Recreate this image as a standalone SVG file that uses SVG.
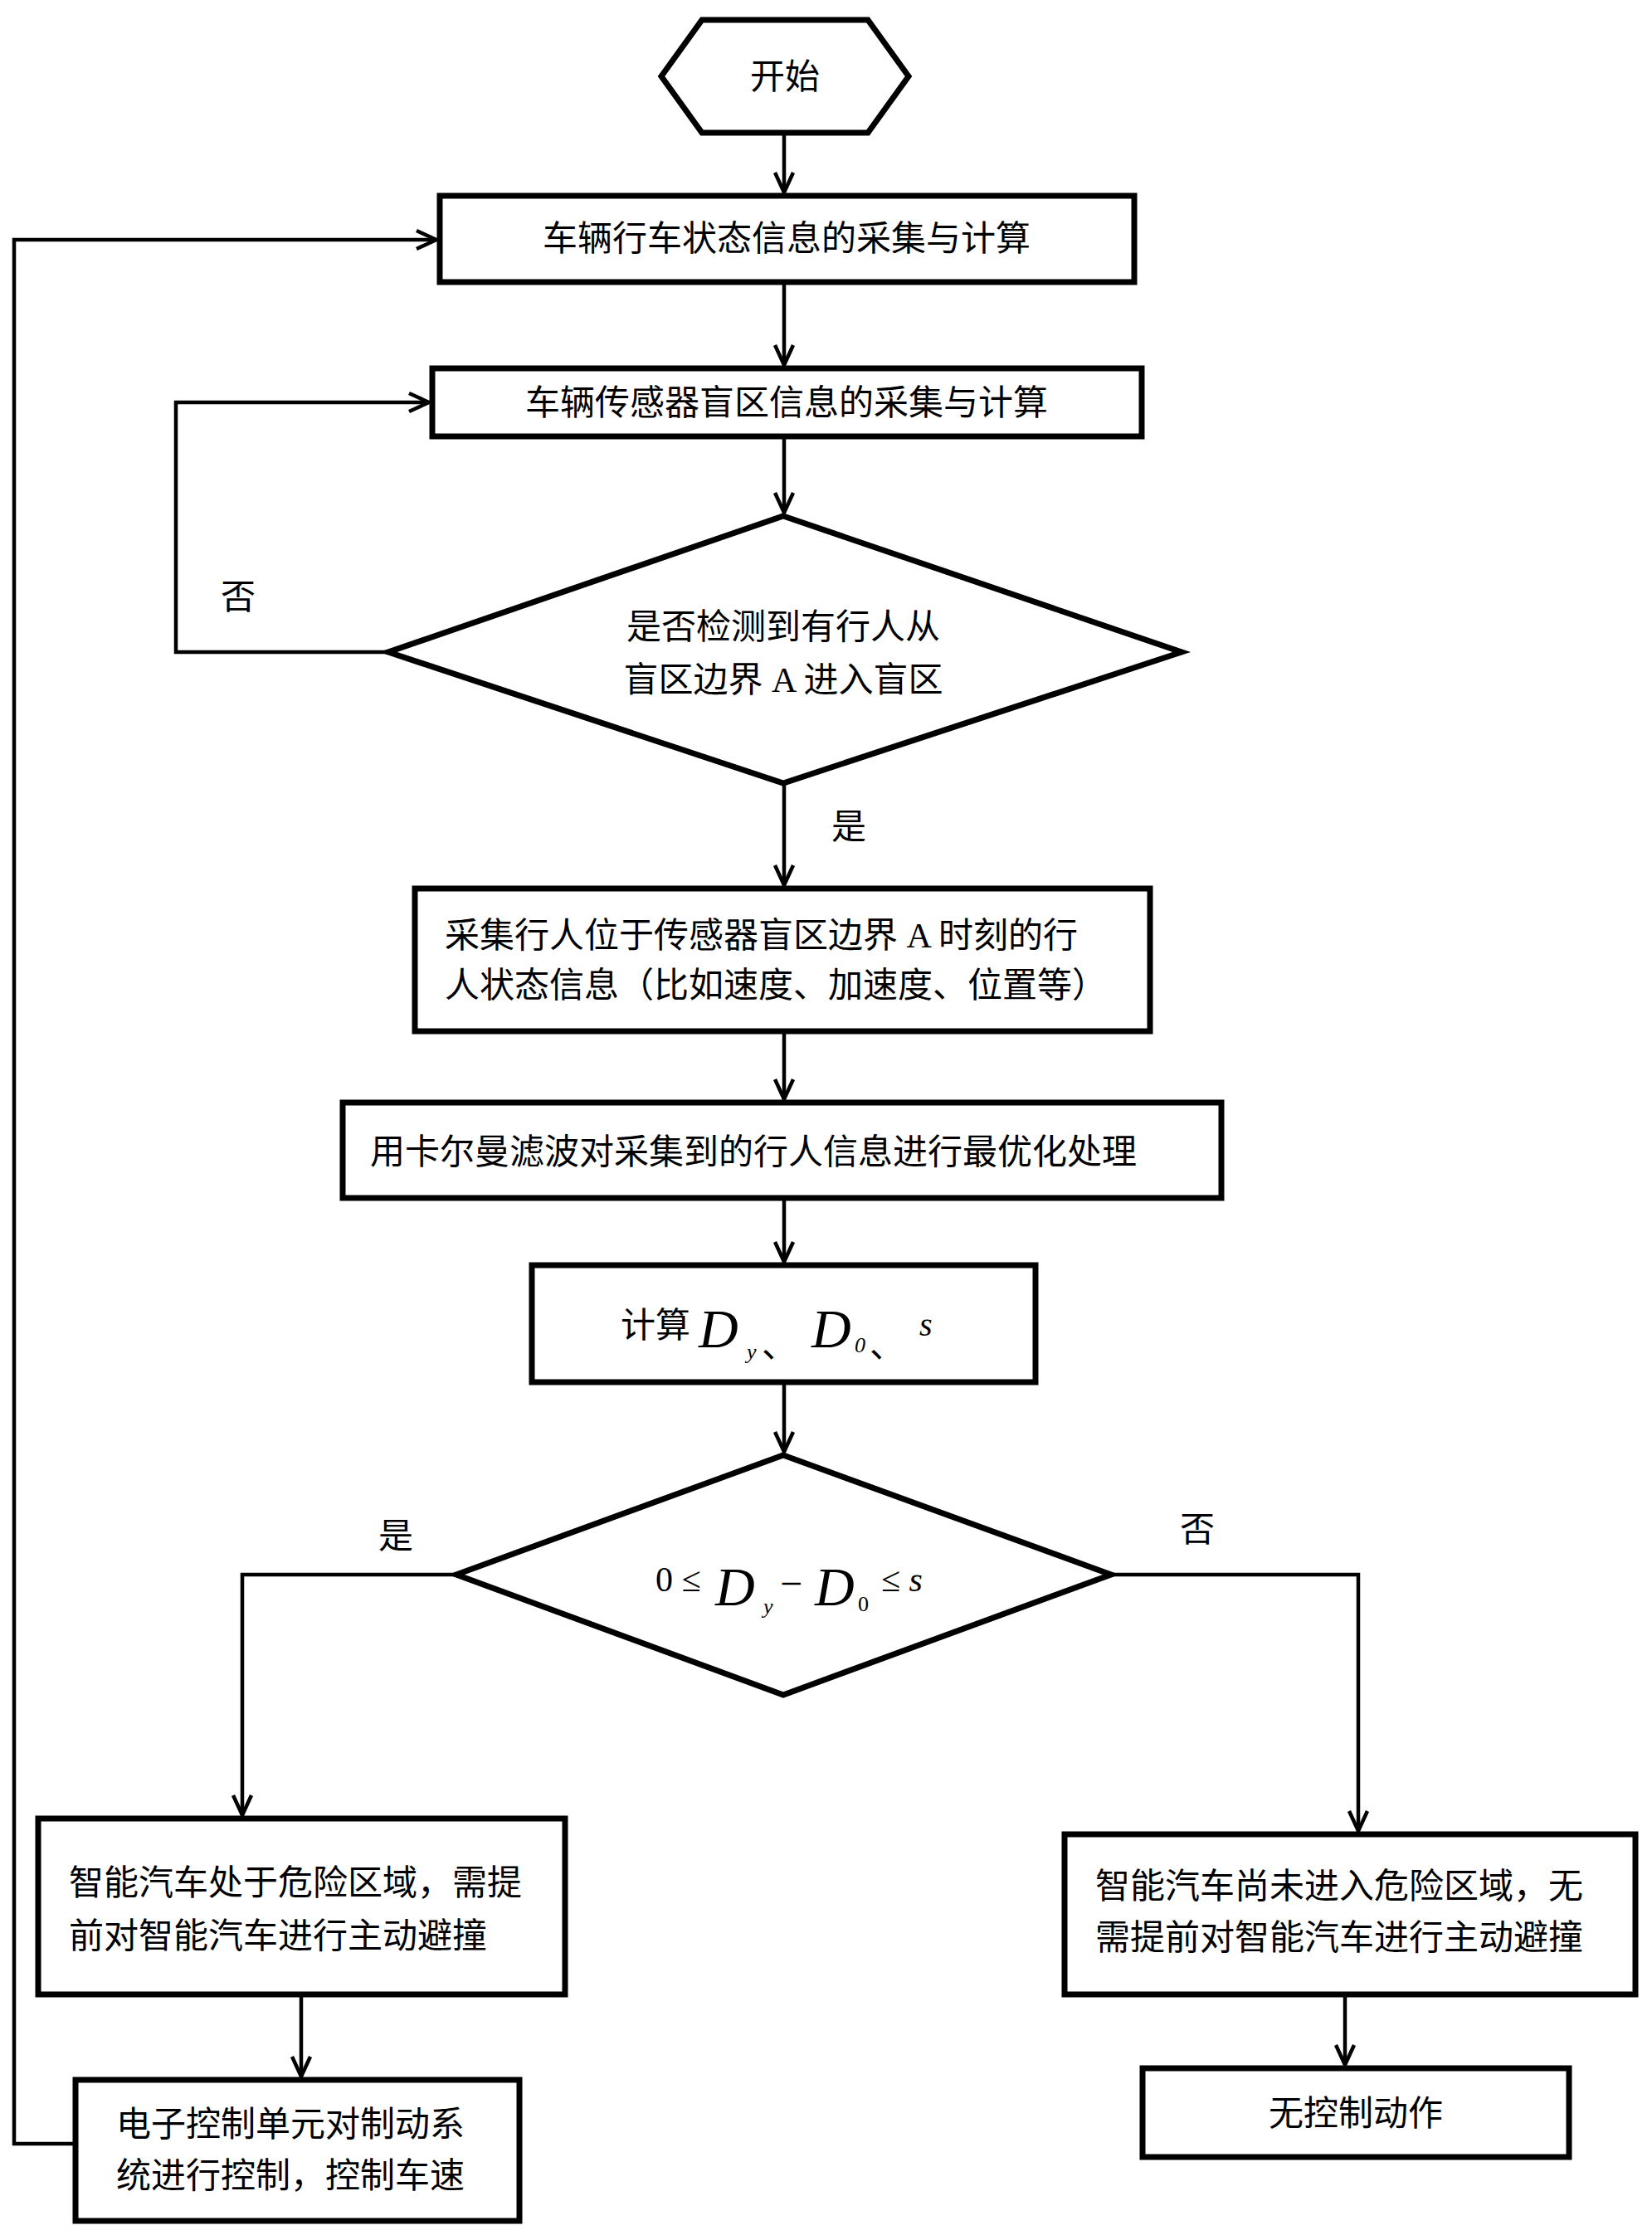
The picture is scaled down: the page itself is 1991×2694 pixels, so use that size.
<svg xmlns="http://www.w3.org/2000/svg" width="1991" height="2694" viewBox="0 0 1991 2694">
<style>
.n{fill:#fff;stroke:#000;stroke-width:7}
.c{fill:none;stroke:#000;stroke-width:4.5}
.t{font-family:"Liberation Serif","Noto Sans CJK SC",serif;font-size:42px;fill:#000}
.m{font-family:"Liberation Serif",serif;font-style:italic;fill:#000}
</style>
<defs>
<marker id="a" viewBox="0 0 30 30" refX="27" refY="15" markerWidth="30" markerHeight="30" markerUnits="userSpaceOnUse" orient="auto">
<polyline points="3,4 27,15 3,26" fill="none" stroke="#000" stroke-width="4.5"/>
</marker>
</defs>
<rect width="1991" height="2694" fill="#fff"/>
<g id="connectors">
<path class="c" marker-end="url(#a)" d="M945 163V232"/>
<path class="c" marker-end="url(#a)" d="M945 340V440"/>
<path class="c" marker-end="url(#a)" d="M945 526V618"/>
<path class="c" marker-end="url(#a)" d="M945 944V1067"/>
<path class="c" marker-end="url(#a)" d="M945 1243V1325"/>
<path class="c" marker-end="url(#a)" d="M945 1444V1521"/>
<path class="c" marker-end="url(#a)" d="M945 1666V1750"/>
<path class="c" marker-end="url(#a)" d="M468 786H212V485H517"/>
<path class="c" marker-end="url(#a)" d="M550 1898H292V2188"/>
<path class="c" marker-end="url(#a)" d="M1339 1898H1637V2207"/>
<path class="c" marker-end="url(#a)" d="M363 2404V2503"/>
<path class="c" marker-end="url(#a)" d="M1621 2404V2489"/>
<path class="c" marker-end="url(#a)" d="M91 2584H17V289H526"/>
</g>
<g id="start"><polygon class="n" points="846,24 1046,24 1095,92 1046,160 846,160 797,92"/><text class="t" x="946" y="107" text-anchor="middle">开始</text></g>
<g id="n1"><rect class="n" x="530" y="236" width="837" height="104"/><text class="t" x="948" y="302" text-anchor="middle">车辆行车状态信息的采集与计算</text></g>
<g id="n2"><rect class="n" x="521" y="444" width="855" height="82"/><text class="t" x="948" y="500" text-anchor="middle">车辆传感器盲区信息的采集与计算</text></g>
<g id="d1"><polygon class="n" points="944,622 1424,786 944,944 468,786"/><text class="t" x="944" y="770" text-anchor="middle">是否检测到有行人从</text><text class="t" x="944" y="834" text-anchor="middle">盲区边界 A 进入盲区</text></g>
<text class="t" x="266" y="734">否</text>
<text class="t" x="1002" y="1011">是</text>
<g id="n3"><rect class="n" x="500" y="1071" width="886" height="172"/><text class="t" x="536" y="1142">采集行人位于传感器盲区边界  A  时刻的行</text><text class="t" x="536" y="1202">人状态信息（比如速度、加速度、位置等）</text></g>
<g id="n4"><rect class="n" x="413" y="1329" width="1059" height="115"/><text class="t" x="446" y="1403">用卡尔曼滤波对采集到的行人信息进行最优化处理</text></g>
<g id="n5"><rect class="n" x="641" y="1525" width="607" height="141"/><text class="t" x="748" y="1612">计算</text><text class="m" x="842" y="1624" font-size="66">D</text><text class="m" x="900" y="1638" font-size="26">y</text><text class="t" x="918" y="1636" font-size="34">、</text><text class="m" x="978" y="1624" font-size="66">D</text><text class="m" x="1030" y="1630" font-size="26" font-style="normal">0</text><text class="t" x="1048" y="1636" font-size="34">、</text><text class="m" x="1108" y="1610" font-size="40">s</text></g>
<g id="d2"><polygon class="n" points="944,1754 1339,1898 944,2043 550,1898"/><text x="790" y="1918" font-family="Liberation Serif,serif" font-size="42">0 ≤</text><text class="m" x="862" y="1935" font-size="66">D</text><text class="m" x="920" y="1945" font-size="26">y</text><text x="940" y="1925" font-family="Liberation Serif,serif" font-size="48">−</text><text class="m" x="982" y="1935" font-size="66">D</text><text x="1034" y="1942" font-family="Liberation Serif,serif" font-size="26">0</text><text x="1062" y="1918" font-family="Liberation Serif,serif" font-size="42">≤ <tspan font-style="italic">s</tspan></text></g>
<text class="t" x="456" y="1866">是</text>
<text class="t" x="1422" y="1858">否</text>
<g id="n6"><rect class="n" x="46" y="2192" width="635" height="212"/><text class="t" x="83" y="2284">智能汽车处于危险区域，需提</text><text class="t" x="83" y="2348">前对智能汽车进行主动避撞</text></g>
<g id="n7"><rect class="n" x="1283" y="2211" width="688" height="193"/><text class="t" x="1320" y="2288">智能汽车尚未进入危险区域，无</text><text class="t" x="1320" y="2350">需提前对智能汽车进行主动避撞</text></g>
<g id="n8"><rect class="n" x="1377" y="2493" width="514" height="107"/><text class="t" x="1634" y="2562" text-anchor="middle">无控制动作</text></g>
<g id="n9"><rect class="n" x="91" y="2507" width="535" height="170"/><text class="t" x="140" y="2575">电子控制单元对制动系</text><text class="t" x="140" y="2637">统进行控制，控制车速</text></g>
</svg>
